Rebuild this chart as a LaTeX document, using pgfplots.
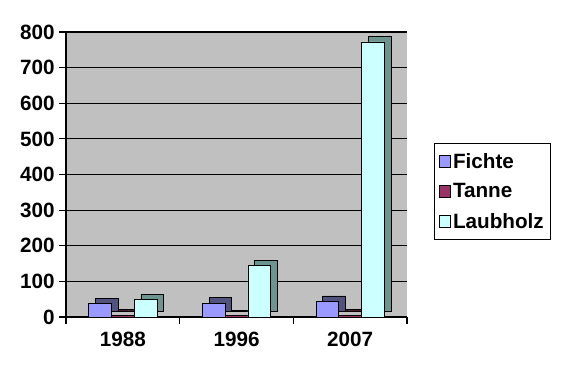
\documentclass[border=0pt]{standalone}
\usepackage{fontspec}
\setmainfont{Liberation Sans}[BoldFont={Liberation Sans Bold}]
\usepackage{pgfplots}
\pgfplotsset{compat=1.18}
\definecolor{fichte}{HTML}{9999FF}
\definecolor{fichteD}{HTML}{52527F}
\definecolor{tanne}{HTML}{993366}
\definecolor{tanneD}{HTML}{4C1A33}
\definecolor{laub}{HTML}{CCFFFF}
\definecolor{laubD}{HTML}{6E9490}
\definecolor{bg}{HTML}{C0C0C0}
\begin{document}
\begin{tikzpicture}
\path[use as bounding box] (-49.5pt,-36.7pt) rectangle (375.5pt,237.6pt);
\begin{axis}[
  scale only axis,
  width=255.6pt, height=213.6pt,
  ybar, bar width=0.2,
  xmin=-0.5, xmax=2.5,
  ymin=0, ymax=800,
  ytick={0,100,...,800},
  xtick={0,1,2},
  xticklabels={1988,1996,2007},
  minor xtick={-0.5,0.5,1.5,2.5},
  tick align=outside,
  x tick style={draw=none},
  minor x tick style={draw=black, line width=0.9pt},
  minor tick length=5pt,
  y tick style={black, line width=0.9pt},
  major tick length=5pt,
  axis background/.style={fill=bg},
  ymajorgrids,
  grid style={black, line width=0.9pt},
  axis line style={black, line width=0.9pt},
  axis x line*=bottom,
  axis y line*=left,
  tick label style={font=\fontsize{15.5}{17}\selectfont\bfseries},
  xticklabel style={yshift=-3pt},
  /pgf/number format/assume math mode=true,
  legend style={at={(1.08,0.44)}, anchor=west, draw=black, line width=0.8pt,
    font=\fontsize{15.5}{17}\selectfont\bfseries, row sep=6pt,
    inner xsep=3pt, inner ysep=5pt},
  legend cell align=left,
  legend image code/.code={\draw[#1, line width=0.6pt] (0pt,-4.5pt) rectangle (8pt,4.5pt);},
  clip=false,
]
\addplot[fill=fichteD, draw=black, line width=0.6pt, bar shift=-0.2, xshift=5pt, yshift=4pt, forget plot] coordinates {(0,37) (1,39) (2,44)};
\addplot[fill=tanneD, draw=black, line width=0.6pt, bar shift=0, xshift=5pt, yshift=4pt, forget plot] coordinates {(0,5) (1,4) (2,5)};
\addplot[fill=laubD, draw=black, line width=0.6pt, bar shift=0.2, xshift=5pt, yshift=4pt, forget plot] coordinates {(0,48) (1,145) (2,772)};
\addplot[fill=fichte, draw=black, line width=0.6pt, bar shift=-0.2] coordinates {(0,37) (1,39) (2,44)};
\addplot[fill=tanne, draw=black, line width=0.6pt, bar shift=0] coordinates {(0,5) (1,4) (2,5)};
\addplot[fill=laub, draw=black, line width=0.6pt, bar shift=0.2] coordinates {(0,48) (1,145) (2,772)};
\legend{Fichte,Tanne,Laubholz}
\end{axis}
\end{tikzpicture}
\end{document}
